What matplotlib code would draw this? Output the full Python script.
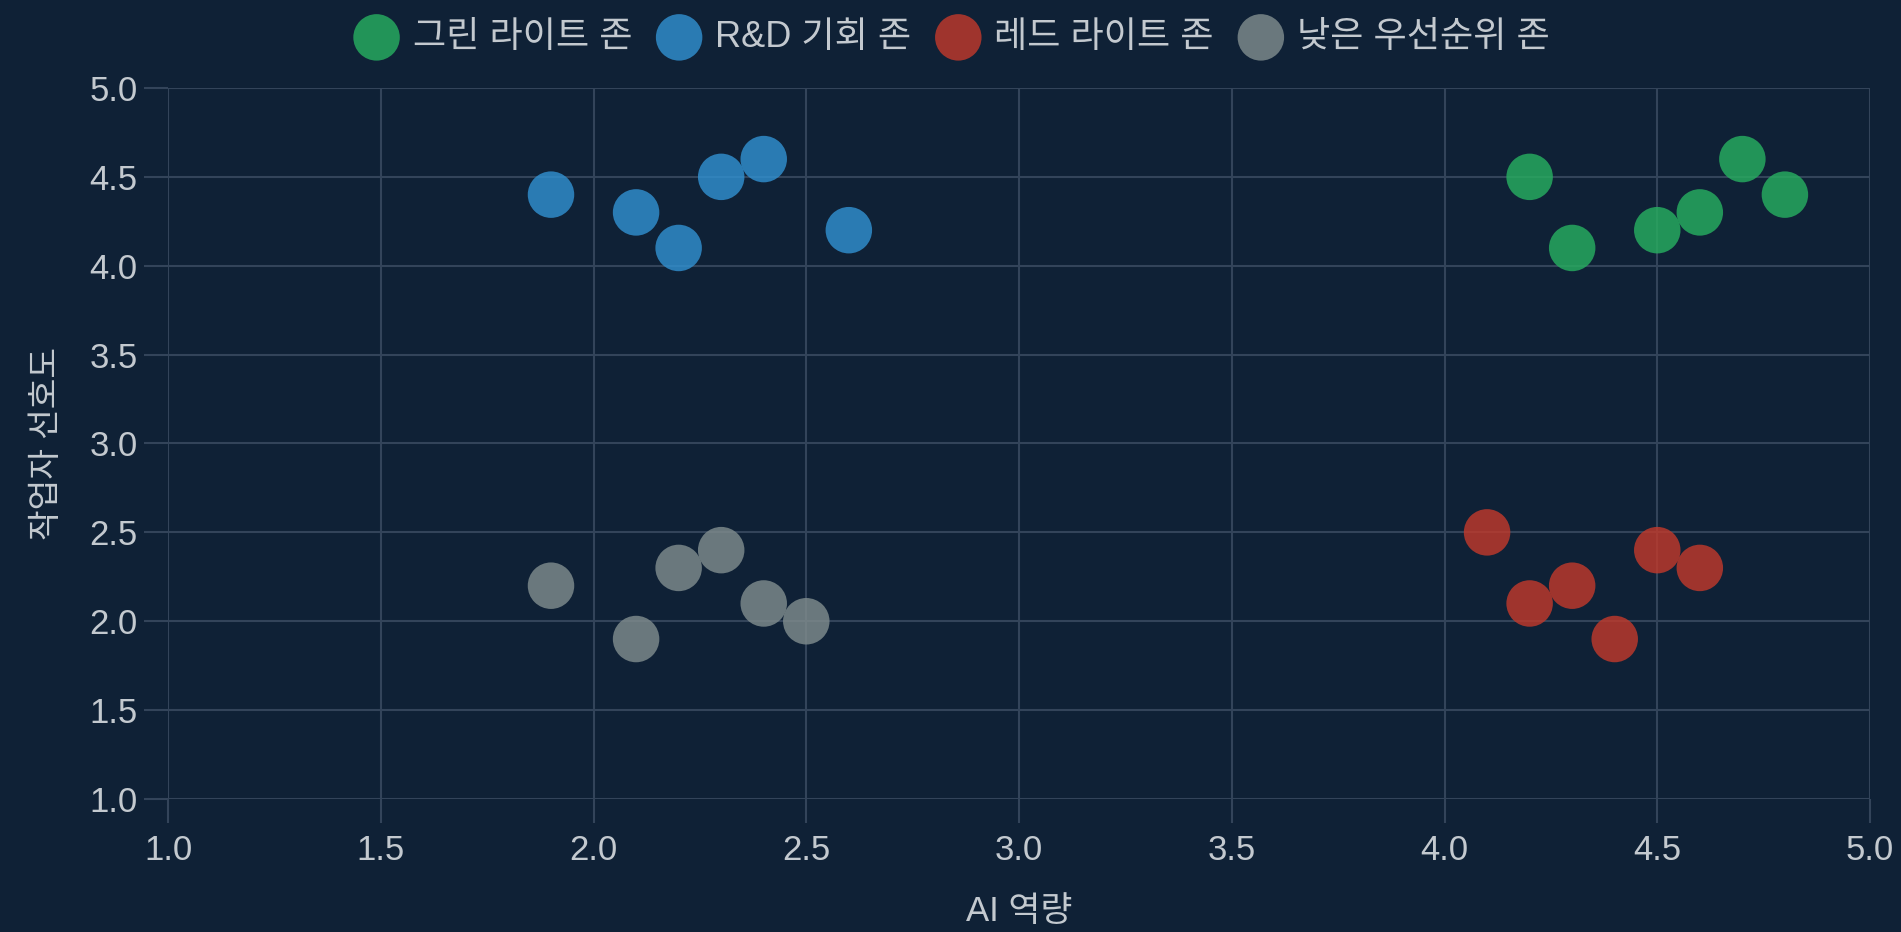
import matplotlib
matplotlib.use("Agg")
import matplotlib.pyplot as plt

# zone data (AI capability, worker preference)
green_x = [4.2, 4.3, 4.5, 4.6, 4.7, 4.8]
green_y = [4.5, 4.1, 4.2, 4.3, 4.6, 4.4]
blue_x = [1.9, 2.1, 2.2, 2.3, 2.4, 2.6]
blue_y = [4.4, 4.3, 4.1, 4.5, 4.6, 4.2]
red_x = [4.1, 4.2, 4.3, 4.4, 4.5, 4.6]
red_y = [2.5, 2.1, 2.2, 1.9, 2.4, 2.3]
gray_x = [1.9, 2.1, 2.2, 2.3, 2.4, 2.5]
gray_y = [2.2, 1.9, 2.3, 2.4, 2.1, 2.0]
labels = ["그린 라이트 존", "R&D 기회 존", "레드 라이트 존", "낮은 우선순위 존"]
ticks = [1.0, 1.5, 2.0, 2.5, 3.0, 3.5, 4.0, 4.5, 5.0]

bg = "#0f2136"
grid_c = "#33445a"
text_c = "#c3c9cf"
plt.rcParams["font.family"] = ["Liberation Sans", "Noto Sans CJK KR"]

fig = plt.figure(figsize=(19.01, 9.32), dpi=100, facecolor=bg)
ax = fig.add_axes([0.0884, 0.1427, 0.8953, 0.7629])
ax.set_facecolor(bg)

series = [
    (green_x, green_y, "#27ae60"),
    (blue_x, blue_y, "#3190d0"),
    (red_x, red_y, "#c0392b"),
    (gray_x, gray_y, "#7f8c8d"),
]
for (xs, ys, c), lab in zip(series, labels):
    ax.scatter(xs, ys, s=1120, color=c, alpha=0.82, edgecolors="none", label=lab, zorder=3)

ax.set_xlim(1.0, 5.0)
ax.set_ylim(1.0, 5.0)
ax.set_xticks(ticks)
ax.set_yticks(ticks)
ax.set_xticklabels([f"{t:.1f}" for t in ticks])
ax.set_yticklabels([f"{t:.1f}" for t in ticks])
ax.grid(True, color=grid_c, linewidth=1.5)
ax.tick_params(colors=grid_c, labelcolor=text_c, labelsize=25, length=17, width=1.5)
ax.tick_params(axis="x", pad=8)
ax.tick_params(axis="y", pad=5)
for sp in ax.spines.values():
    sp.set_visible(False)

ax.set_xlabel("AI 역량", color=text_c, fontsize=25, labelpad=20)
ax.set_ylabel("작업자 선호도", color=text_c, fontsize=24, labelpad=19)

leg = fig.legend(loc="upper center", bbox_to_anchor=(0.5, 1.0), ncol=4, frameon=False,
                 fontsize=26, markerscale=1.0, handlelength=1.4, handletextpad=0.3,
                 columnspacing=0.6, labelcolor=text_c, borderaxespad=0.15)

fig.savefig("out.png", dpi=100, facecolor=bg)
